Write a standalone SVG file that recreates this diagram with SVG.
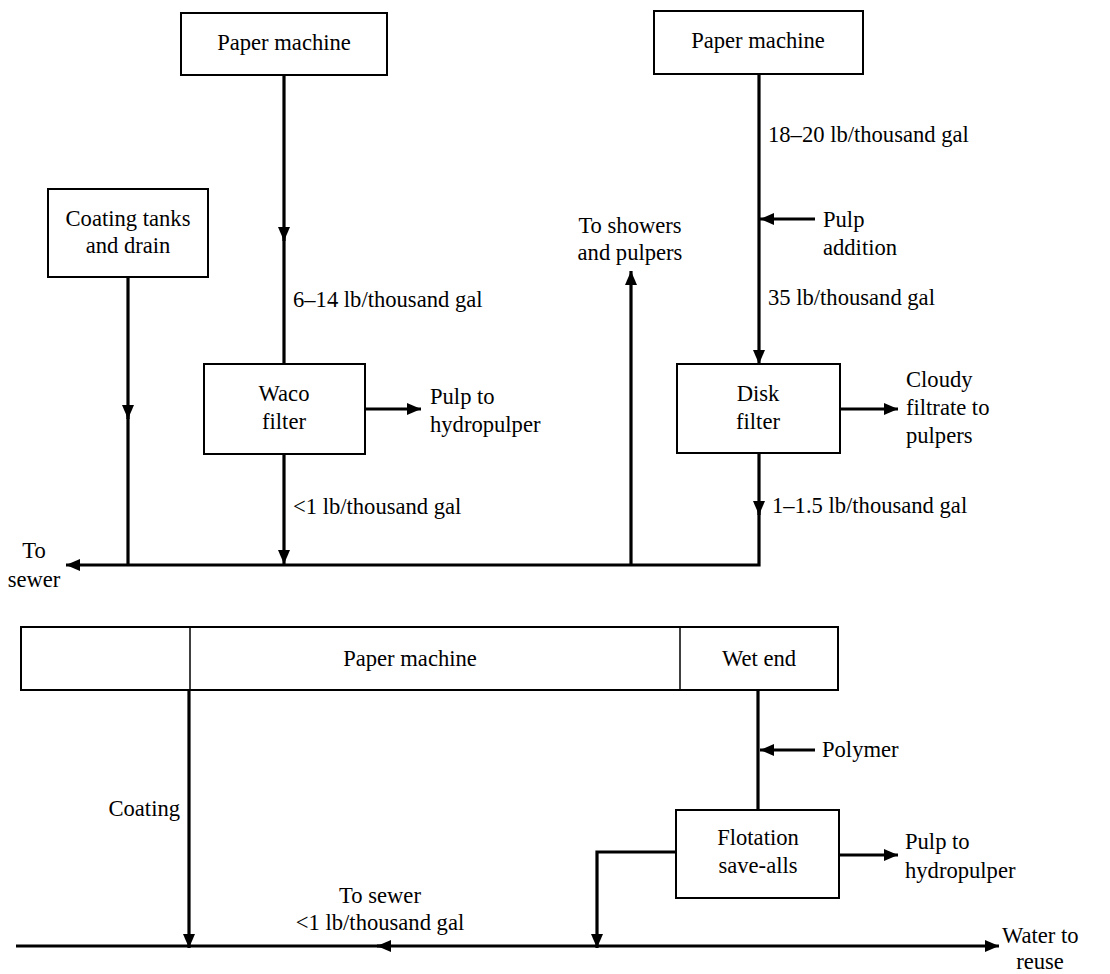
<svg xmlns="http://www.w3.org/2000/svg" width="1110" height="974" viewBox="0 0 1110 974">
<defs>
<marker id="ah" markerUnits="userSpaceOnUse" markerWidth="14" markerHeight="12" refX="14" refY="6" orient="auto">
<path d="M0,0 L14,6 L0,12 z" fill="#000"/>
</marker>
<style>
.box{fill:#fff;stroke:#000;stroke-width:2}
.div{stroke:#000;stroke-width:1.5;fill:none}
.ln{fill:none;stroke:#000;stroke-width:3.2}
.arr{marker-end:url(#ah)}
.t{font-family:'Liberation Serif','DejaVu Serif',serif;font-size:22.6px;fill:#000}
.c{text-anchor:middle}
</style>
</defs>
<rect width="1110" height="974" fill="#fff"/>

<g id="connectors">
<path class="ln arr" d="M284,75 V241"/>
<path class="ln" d="M284,236 V364"/>
<path class="ln arr" d="M128,277 V419"/>
<path class="ln" d="M128,414 V565"/>
<path class="ln arr" d="M365,409 H421"/>
<path class="ln arr" d="M284,454 V564"/>
<path class="ln arr" d="M759,74 V364"/>
<path class="ln arr" d="M815,219 H760"/>
<path class="ln arr" d="M840,409 H898"/>
<path class="ln arr" d="M759,453 V515"/>
<path class="ln arr" d="M759,510 V565 H66"/>
<path class="ln arr" d="M631,565 V271"/>

<path class="ln arr" d="M189,690 V948"/>
<path class="ln" d="M758,690 V810"/>
<path class="ln arr" d="M815,750 H760"/>
<path class="ln arr" d="M839,855 H898"/>
<path class="ln arr" d="M676,852 H597 V948"/>
<path class="ln arr" d="M597,946 H377"/>
<path class="ln" d="M382,946 H16"/>
<path class="ln arr" d="M597,946 H999"/>
</g>

<g id="paper-machine-1">
<rect class="box" x="181" y="13" width="206" height="62"/>
<text class="t c" x="284" y="50">Paper machine</text>
</g>
<g id="coating-tanks">
<rect class="box" x="48" y="189" width="160" height="88"/>
<text class="t c" x="128" y="226">Coating tanks</text>
<text class="t c" x="128" y="253">and drain</text>
</g>
<g id="waco-filter">
<rect class="box" x="204" y="364" width="161" height="90"/>
<text class="t c" x="284" y="401">Waco</text>
<text class="t c" x="284" y="429">filter</text>
</g>
<g id="paper-machine-2">
<rect class="box" x="654" y="11" width="209" height="63"/>
<text class="t c" x="758" y="48">Paper machine</text>
</g>
<g id="disk-filter">
<rect class="box" x="677" y="364" width="163" height="89"/>
<text class="t c" x="758" y="401">Disk</text>
<text class="t c" x="758" y="429">filter</text>
</g>
<g id="paper-machine-3">
<rect class="box" x="21" y="627" width="817" height="63"/>
<line class="div" x1="190" y1="627" x2="190" y2="690"/>
<line class="div" x1="680" y1="627" x2="680" y2="690"/>
<text class="t c" x="410" y="666">Paper machine</text>
<text class="t c" x="759" y="666">Wet end</text>
</g>
<g id="flotation">
<rect class="box" x="676" y="810" width="163" height="88"/>
<text class="t c" x="758" y="845">Flotation</text>
<text class="t c" x="758" y="873">save-alls</text>
</g>

<g id="labels">
<text class="t" x="293" y="307">6–14 lb/thousand gal</text>
<text class="t" x="430" y="404">Pulp to</text>
<text class="t" x="430" y="432">hydropulper</text>
<text class="t" x="293" y="514">&lt;1 lb/thousand gal</text>
<text class="t c" x="34" y="558">To</text>
<text class="t c" x="34" y="587">sewer</text>
<text class="t c" x="630" y="233">To showers</text>
<text class="t c" x="630" y="260">and pulpers</text>
<text class="t" x="768" y="142">18–20 lb/thousand gal</text>
<text class="t" x="823" y="227">Pulp</text>
<text class="t" x="823" y="255">addition</text>
<text class="t" x="768" y="305">35 lb/thousand gal</text>
<text class="t" x="906" y="387">Cloudy</text>
<text class="t" x="906" y="415">filtrate to</text>
<text class="t" x="906" y="443">pulpers</text>
<text class="t" x="772" y="513">1–1.5 lb/thousand gal</text>
<text class="t" x="180" y="816" text-anchor="end">Coating</text>
<text class="t c" x="380" y="903">To sewer</text>
<text class="t c" x="380" y="930">&lt;1 lb/thousand gal</text>
<text class="t" x="822" y="757">Polymer</text>
<text class="t" x="905" y="849">Pulp to</text>
<text class="t" x="905" y="878">hydropulper</text>
<text class="t" x="1002" y="943">Water to</text>
<text class="t c" x="1040" y="969">reuse</text>
</g>
</svg>
